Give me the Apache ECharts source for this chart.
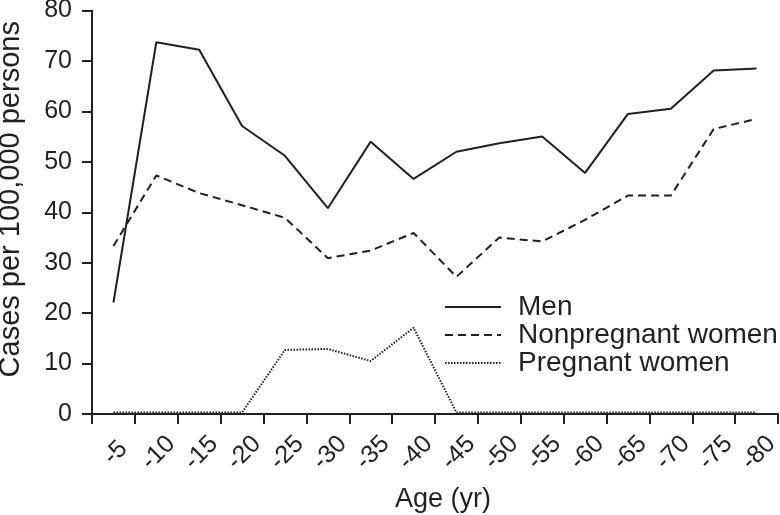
<!DOCTYPE html>
<html>
<head>
<meta charset="utf-8">
<script src="https://cdn.jsdelivr.net/npm/echarts@6/dist/echarts.min.js"></script>
<style>html,body{margin:0;padding:0;background:#fff}#c{width:780px;height:515px}</style>
</head>
<body>
<div id="c"></div>
<script>
var categories = ['-5','-10','-15','-20','-25','-30','-35','-40','-45','-50','-55','-60','-65','-70','-75','-80'];
var men = [22.1, 73.7, 72.2, 57.1, 51.2, 40.8, 54.0, 46.6, 52.0, 53.7, 55.0, 47.8, 59.5, 60.5, 68.1, 68.5];
var nonpregnant = [33.3, 47.3, 43.8, 41.4, 38.9, 30.9, 32.4, 35.9, 27.2, 35.0, 34.2, 38.5, 43.3, 43.3, 56.5, 58.5];
var pregnant = [0.3, 0.3, 0.3, 0.3, 12.7, 12.9, 10.5, 17.1, 0.3, 0.3, 0.3, 0.3, 0.3, 0.3, 0.3, 0.3];
var yTicks = [0, 10, 20, 30, 40, 50, 60, 70, 80];

var ink = '#231f20';
var font = '"Liberation Sans", Arial, sans-serif';
var chart = echarts.init(document.getElementById('c'), null, {renderer: 'canvas'});
chart.setOption({
  animation: false,
  backgroundColor: '#fff',
  textStyle: {fontFamily: font, color: ink},
  grid: {left: 92, right: 2, top: 10.5, bottom: 101, containLabel: false, outerBoundsMode: 'none'},
  legend: {
    orient: 'vertical', left: 439, top: 288, itemWidth: 56, itemHeight: 14, itemGap: 0,
    itemStyle: {color: 'rgba(0,0,0,0)', borderColor: 'rgba(0,0,0,0)', borderWidth: 0, opacity: 0},
    textStyle: {fontFamily: font, fontSize: 28, color: ink, padding: [0, 0, 0, 12]},
    data: ['Men', 'Nonpregnant women', 'Pregnant women']
  },
  xAxis: {
    type: 'category', data: categories, boundaryGap: true,
    name: 'Age (yr)', nameLocation: 'middle', nameGap: 72,
    nameTextStyle: {fontFamily: font, fontSize: 27, color: ink, padding: [0, 0, 0, 16]},
    axisLine: {lineStyle: {color: ink, width: 2}},
    axisTick: {show: true, length: 10, lineStyle: {color: ink, width: 2}},
    axisLabel: {rotate: 45, align: 'center', verticalAlign: 'middle', margin: 41, fontSize: 25, color: ink, fontFamily: font, interval: 0, padding: [0, 0, 0, 6]},
    splitLine: {show: false}
  },
  yAxis: {
    type: 'value', min: yTicks[0], max: yTicks[yTicks.length - 1], interval: 10,
    name: 'Cases per 100,000 persons', nameLocation: 'middle', nameGap: 67,
    nameTextStyle: {fontFamily: font, fontSize: 29, color: ink, padding: [0, 0, 0, 26]},
    axisLine: {show: true, lineStyle: {color: ink, width: 2}},
    axisTick: {show: true, length: 10, lineStyle: {color: ink, width: 2}},
    axisLabel: {margin: 20, fontSize: 25, color: ink, fontFamily: font},
    splitLine: {show: false}
  },
  series: [
    {name: 'Men', type: 'line', data: men, symbol: 'none', showSymbol: false,
     lineStyle: {color: ink, width: 2, type: 'solid'}, itemStyle: {color: ink}},
    {name: 'Nonpregnant women', type: 'line', data: nonpregnant, symbol: 'none', showSymbol: false,
     lineStyle: {color: ink, width: 2, type: [8, 5]}, itemStyle: {color: ink}},
    {name: 'Pregnant women', type: 'line', data: pregnant, symbol: 'none', showSymbol: false,
     lineStyle: {color: ink, width: 2, type: [1.5, 1.5]}, itemStyle: {color: ink}}
  ]
});
</script>
</body>
</html>
